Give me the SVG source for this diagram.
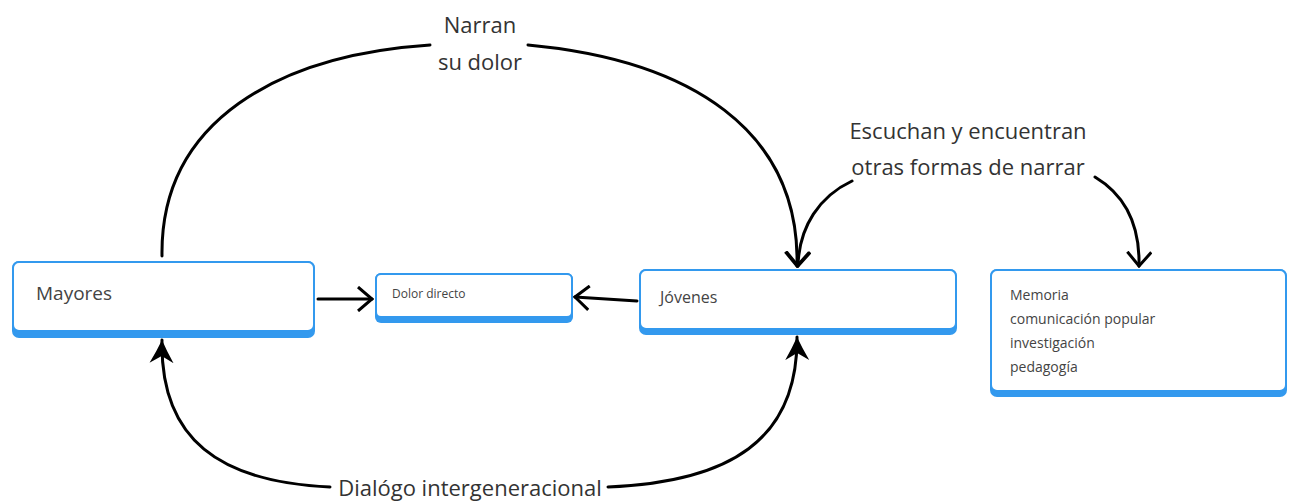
<svg xmlns="http://www.w3.org/2000/svg" width="1292" height="502" viewBox="0 0 1292 502">
<style>
.band{fill:#3399ee}
.box{fill:#ffffff;stroke:#3399ee;stroke-width:2}
.t{font-family:"Open Sans","Liberation Sans",sans-serif;fill:#444}
.lbl{font-family:"Open Sans","Liberation Sans",sans-serif;fill:#333;font-size:22px;text-anchor:middle}
.c{fill:none;stroke:#000;stroke-width:3;stroke-linecap:round}
</style>
<defs>
<marker id="open" viewBox="0 0 17 26" refX="15" refY="13" markerWidth="17" markerHeight="26" markerUnits="userSpaceOnUse" orient="auto">
<path d="M1,1 L15,13 L1,25" fill="none" stroke="#000" stroke-width="3" stroke-linejoin="miter"/>
</marker>
<marker id="solid" viewBox="0 0 24 26" refX="23" refY="13" markerWidth="24" markerHeight="26" markerUnits="userSpaceOnUse" orient="auto">
<path d="M0,1 Q12,8 23,13 Q12,18 0,25 L7,13 Z" fill="#000"/>
</marker>
</defs>
<rect width="1292" height="502" fill="#ffffff"/>
<g id="connectors">
<path class="c" d="M162 256 C160 120 280 55 430 45" />
<path class="c" d="M528 45 C690 60 800 130 797 266" marker-end="url(#open)"/>
<path class="c" d="M852 181 C820 196 799 226 798 266" marker-end="url(#open)"/>
<path class="c" d="M1095 177 C1125 195 1140 225 1139 266" marker-end="url(#open)"/>
<path class="c" d="M318 299 L372 299" marker-end="url(#open)"/>
<path class="c" d="M637 301 L575 297" marker-end="url(#open)"/>
<path class="c" d="M330 487 C220 482 160 440 162 340" marker-end="url(#solid)"/>
<path class="c" d="M608 487 C730 482 798 440 797 337" marker-end="url(#solid)"/>
<text class="lbl" x="480" y="33">Narran</text>
<text class="lbl" x="480" y="70">su dolor</text>
<text class="lbl" x="968" y="139">Escuchan y encuentran</text>
<text class="lbl" x="968" y="175">otras formas de narrar</text>
<text class="lbl" x="470" y="496">Dialógo intergeneracional</text>
</g>
<g id="mayores">
<rect class="band" x="12" y="261" width="303" height="77" rx="7"/>
<rect class="box" x="13" y="262" width="301" height="69" rx="6"/>
<text class="t" x="36" y="300" font-size="19">Mayores</text>
</g>
<g id="dolor">
<rect class="band" x="375" y="273" width="198" height="50" rx="6"/>
<rect class="box" x="376" y="274" width="196" height="43" rx="5"/>
<text class="t" x="392" y="298" font-size="12">Dolor directo</text>
</g>
<g id="jovenes">
<rect class="band" x="639" y="269" width="318" height="66" rx="7"/>
<rect class="box" x="640" y="270" width="316" height="59" rx="6"/>
<text class="t" x="660" y="303" font-size="16">Jóvenes</text>
</g>
<g id="memoria">
<rect class="band" x="990" y="269" width="297" height="128" rx="7"/>
<rect class="box" x="991" y="270" width="295" height="121" rx="6"/>
<text class="t" x="1010" y="300" font-size="14">Memoria</text>
<text class="t" x="1010" y="324" font-size="14">comunicación popular</text>
<text class="t" x="1010" y="348" font-size="14">investigación</text>
<text class="t" x="1010" y="372" font-size="14">pedagogía</text>
</g>
</svg>
